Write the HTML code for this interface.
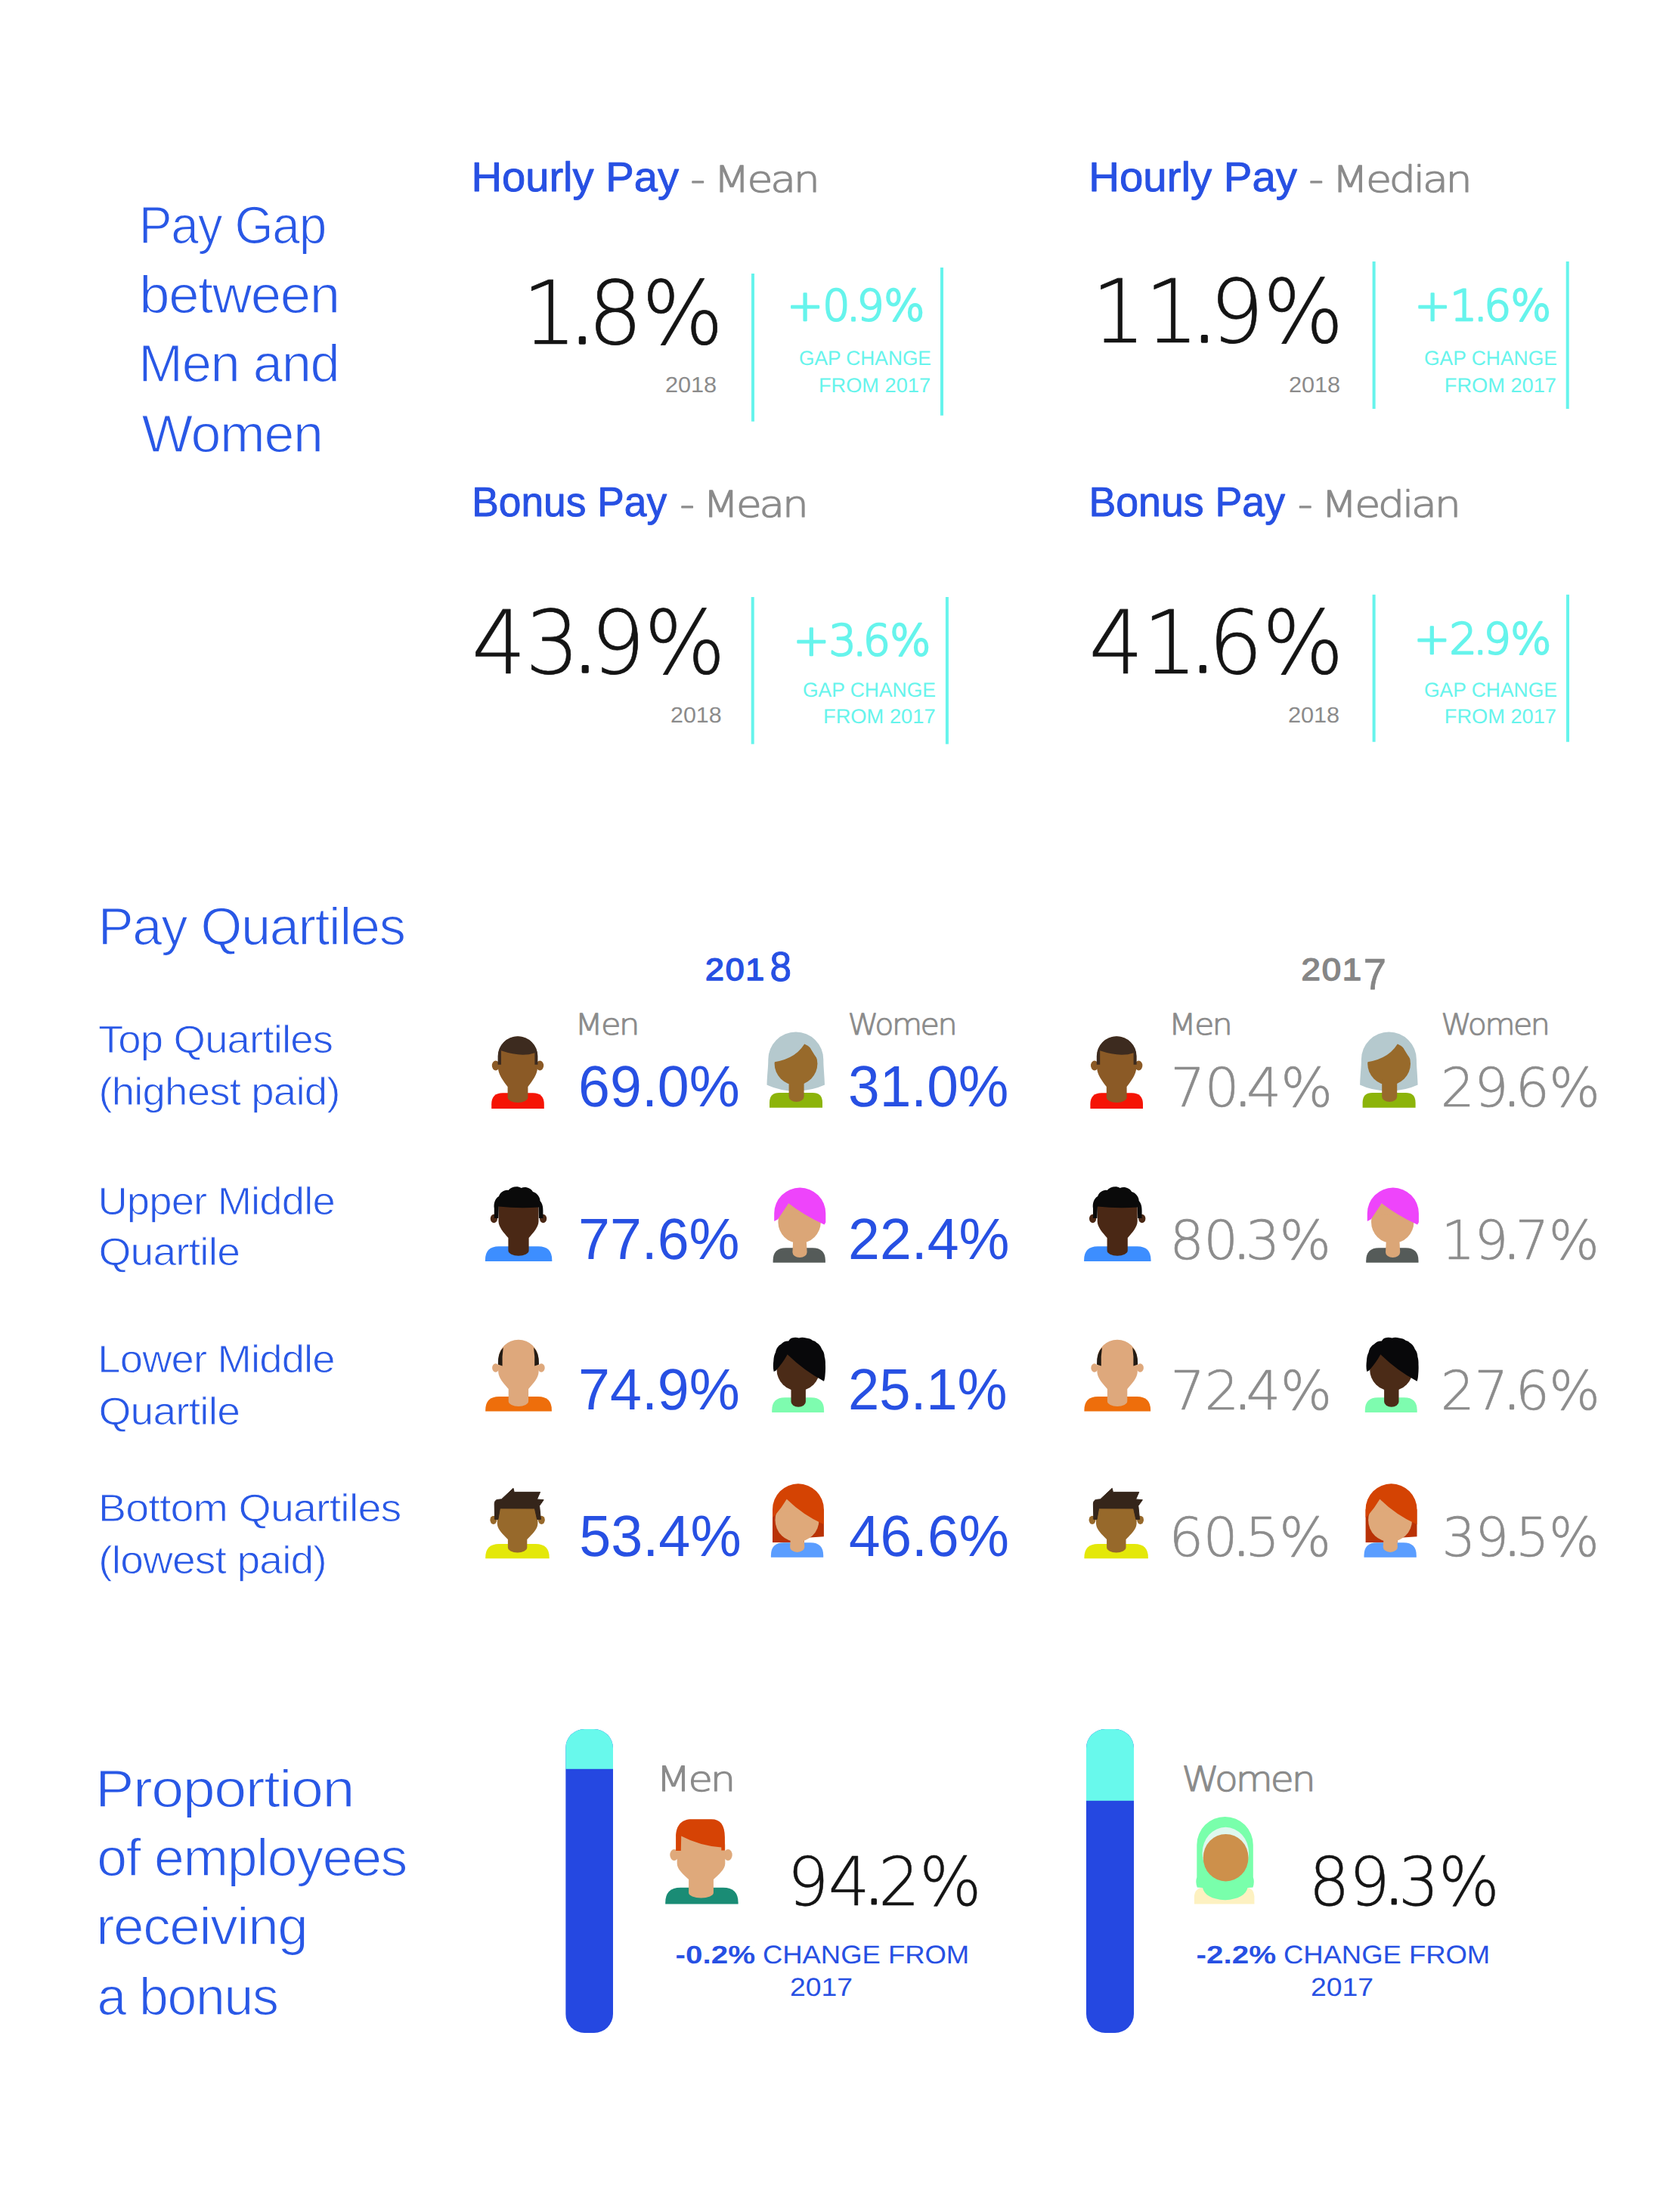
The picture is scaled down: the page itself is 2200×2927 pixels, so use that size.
<!DOCTYPE html>
<html lang="en">
<head>
<meta charset="utf-8">
<title>Gender Pay Gap Report 2018</title>
<style>
html,body{margin:0;padding:0;background:#fff;}
body{width:2200px;height:2927px;overflow:hidden;font-family:'Liberation Sans',Arial,sans-serif;}
svg{display:block;}
text{white-space:pre;text-rendering:geometricPrecision;}
.T{font-family:'Liberation Sans', Arial, Helvetica, sans-serif;font-weight:400;font-size:70.0px;fill:#2958e6;stroke:#fff;stroke-width:1.3px;stroke-linejoin:round;letter-spacing:-1.26px;}
.HB{font-family:'Liberation Sans', Arial, Helvetica, sans-serif;font-weight:400;font-size:54.93px;fill:#2750e3;stroke:#2750e3;stroke-width:0.9px;stroke-linejoin:round;}
.HG{font-family:'DejaVu Sans Light', 'DejaVu Sans', 'Liberation Sans', sans-serif;font-weight:200;font-size:48.08px;fill:#8b8b8b;stroke:#8b8b8b;stroke-width:1.2px;stroke-linejoin:round;letter-spacing:-2.88px;}
.NUM{font-family:'DejaVu Sans Light', 'DejaVu Sans', 'Liberation Sans', sans-serif;font-weight:200;font-size:116.4px;fill:#141414;stroke:#141414;stroke-width:0.7px;stroke-linejoin:round;letter-spacing:-1.16px;}
.Y18{font-family:'Liberation Sans', Arial, Helvetica, sans-serif;font-weight:400;font-size:29.14px;fill:#8b8b8b;}
.CY{font-family:'DejaVu Sans Light', 'DejaVu Sans', 'Liberation Sans', sans-serif;font-weight:200;font-size:56.8px;fill:#66f4ec;stroke:#66f4ec;stroke-width:2.4px;stroke-linejoin:round;letter-spacing:-0.57px;}
.CG{font-family:'Liberation Sans', Arial, Helvetica, sans-serif;font-weight:400;font-size:26.96px;fill:#66f4ec;}
.QL{font-family:'Liberation Sans', Arial, Helvetica, sans-serif;font-weight:400;font-size:51.3px;fill:#2958e6;stroke:#fff;stroke-width:0.9px;stroke-linejoin:round;letter-spacing:-0.77px;}
.QYB{font-family:'Liberation Sans', Arial, Helvetica, sans-serif;font-weight:400;font-size:41.14px;fill:#2750e3;stroke:#2750e3;stroke-width:1.6px;stroke-linejoin:round;letter-spacing:1.65px;}
.QYB8{font-family:'Liberation Sans', Arial, Helvetica, sans-serif;font-weight:400;font-size:55.29px;fill:#2750e3;stroke:#2750e3;stroke-width:0.9px;stroke-linejoin:round;}
.QYG{font-family:'Liberation Sans', Arial, Helvetica, sans-serif;font-weight:400;font-size:41.14px;fill:#868686;stroke:#868686;stroke-width:1.6px;stroke-linejoin:round;letter-spacing:1.65px;}
.QYG7{font-family:'Liberation Sans', Arial, Helvetica, sans-serif;font-weight:400;font-size:58.0px;fill:#868686;stroke:#868686;stroke-width:0.8px;stroke-linejoin:round;}
.QMW{font-family:'DejaVu Sans Light', 'DejaVu Sans', 'Liberation Sans', sans-serif;font-weight:200;font-size:38.9px;fill:#8b8b8b;stroke:#8b8b8b;stroke-width:1.0px;stroke-linejoin:round;letter-spacing:-2.33px;}
.QNB{font-family:'Liberation Sans', Arial, Helvetica, sans-serif;font-weight:400;font-size:77.14px;fill:#2750e3;}
.QNG{font-family:'DejaVu Sans Light', 'DejaVu Sans', 'Liberation Sans', sans-serif;font-weight:200;font-size:71.2px;fill:#8c8c8c;stroke:#8c8c8c;stroke-width:0.6px;stroke-linejoin:round;letter-spacing:-0.71px;}
.BL{font-family:'DejaVu Sans Light', 'DejaVu Sans', 'Liberation Sans', sans-serif;font-weight:200;font-size:45.75px;fill:#8b8b8b;stroke:#8b8b8b;stroke-width:1.2px;stroke-linejoin:round;letter-spacing:-2.75px;}
.BN{font-family:'DejaVu Sans Light', 'DejaVu Sans', 'Liberation Sans', sans-serif;font-weight:200;font-size:89.07px;fill:#141414;stroke:#141414;stroke-width:0.5px;stroke-linejoin:round;letter-spacing:-0.89px;}
.BCB{font-family:'Liberation Sans', Arial, Helvetica, sans-serif;font-weight:700;font-size:33.43px;fill:#2750e3;}
.BCR{font-family:'Liberation Sans', Arial, Helvetica, sans-serif;font-weight:400;font-size:33.91px;fill:#2750e3;}
.dot-NUM{stroke:#141414;stroke-width:3.6px;stroke-linejoin:round;}
.dot-QNG{stroke:#8c8c8c;stroke-width:2.6px;stroke-linejoin:round;}
.dot-BN{stroke:#141414;stroke-width:3.2px;stroke-linejoin:round;}
.dot-CY{stroke:#66f4ec;stroke-width:3.0px;stroke-linejoin:round;}
</style>
</head>
<body>
<svg width="2200" height="2927" viewBox="0 0 2200 2927" role="img" aria-label="Gender pay gap infographic">
<rect width="2200" height="2927" fill="#ffffff"/>
<g id="dividers"><rect x="994.0" y="362.0" width="4" height="195.7" fill="#66f4ec"/><rect x="1244.0" y="354.0" width="4" height="195.8" fill="#66f4ec"/><rect x="1815.6" y="346.0" width="4" height="195.0" fill="#66f4ec"/><rect x="2071.7" y="346.0" width="4" height="195.0" fill="#66f4ec"/><rect x="993.7" y="790.0" width="4" height="194.6" fill="#66f4ec"/><rect x="1250.9" y="790.0" width="4" height="194.6" fill="#66f4ec"/><rect x="1815.6" y="786.8" width="4" height="194.9" fill="#66f4ec"/><rect x="2072.0" y="786.8" width="4" height="194.9" fill="#66f4ec"/></g>
<g id="bars"><clipPath id="barM"><rect x="748.2" y="2288" width="62.8" height="402" rx="25" ry="25"/></clipPath><g clip-path="url(#barM)"><rect x="748.2" y="2288" width="62.8" height="402" fill="#2548e1"/><rect x="748.2" y="2288" width="62.8" height="52.8" fill="#68f9ec"/></g><clipPath id="barW"><rect x="1437" y="2288" width="63" height="402" rx="25" ry="25"/></clipPath><g clip-path="url(#barW)"><rect x="1437" y="2288" width="63" height="402" fill="#2548e1"/><rect x="1437" y="2288" width="63" height="94.8" fill="#68f9ec"/></g></g>
<g id="icons-2018"><g id="m1"><path fill="#f51405" d="M650.2,1466.9 L650.2,1461.3 Q650.2,1446.3 665.2,1446.3 L704.8,1446.3 Q719.8,1446.3 719.8,1461.3 L719.8,1466.9 Z"/><ellipse cx="655.8" cy="1410" rx="5.0" ry="6.4" fill="#8b5a26"/><ellipse cx="714.2" cy="1410" rx="5.0" ry="6.4" fill="#8b5a26"/><path fill="#8b5a26" d="M659,1397.6 A26,26 0 0 1 711,1397.6 L711,1413 C711,1421.8 704.1,1430.5 698.4,1438 L698.4,1452 A13.4,7 0 0 1 671.6,1452 L671.6,1438 C665.9,1430.5 659,1421.8 659,1413 Z"/><path fill="#3d2b1f" d="M658.6,1408.8 L658.6,1397.6 A26.4,26.4 0 0 1 711.4,1397.6 L711.4,1408.8 L707.4,1408.8 L707.4,1393.2 Q690,1399.5 663,1390.3 L663,1408.8 Z"/></g><g id="w1"><path fill="#b5c9ce" d="M1014.5,1435.5 C1015,1420 1016.3,1412 1016.3,1402 A36.5,36.5 0 0 1 1089.3,1402 C1089.3,1412 1090.5,1420 1091,1435.5 Q1075,1443 1052.7,1444 Q1030,1443 1014.5,1435.5 Z"/><path fill="#8cb40a" d="M1018,1465.8 L1018,1459 Q1018,1446 1031,1446 L1075,1446 Q1088,1446 1088,1459 L1088,1465.8 Z"/><circle cx="1053" cy="1407.5" r="28.4" fill="#986a2b"/><path fill="#986a2b" d="M1043.6,1428 L1063.6,1428 L1063.6,1451 A10,7 0 0 1 1043.6,1451 Z"/><path fill="#b5c9ce" d="M1019,1406.5 L1023.5,1405.5 Q1056,1400.5 1067,1376 Q1072,1389 1082.5,1403 L1087,1400 L1078,1382 L1050,1369 L1026,1381 Z"/></g><g id="m2"><path fill="#3d8eff" d="M641.9,1669 L641.9,1667.2 Q641.9,1649.2 659.9,1649.2 L712.3,1649.2 Q730.3,1649.2 730.3,1667.2 L730.3,1669 Z"/><ellipse cx="653.4" cy="1612.5" rx="4.6" ry="5.8" fill="#4a2815"/><ellipse cx="718.6" cy="1612.5" rx="4.6" ry="5.8" fill="#4a2815"/><path fill="#4a2815" d="M659.5,1598.5 A26.5,26.5 0 0 1 712.5,1598.5 L712.5,1616 C712.5,1623.7 705.4,1631.4 699.6,1638 L699.6,1654.8 A13.6,7 0 0 1 672.4,1654.8 L672.4,1638 C666.6,1631.4 659.5,1623.7 659.5,1616 Z"/><path fill="#0a0a0a" d="M653.8,1612 L653.8,1599 C652.6,1592 655.5,1585.5 660,1583 C661.5,1578 667,1574 672.5,1575 C676,1570.5 684.5,1568.8 689.5,1572 C695.5,1569.5 702.5,1572.5 705,1577 C710.5,1578.5 714.5,1584 714.5,1589 C717.8,1593 718.4,1597 718.4,1602 L718.4,1612 L713,1612 L712.6,1597.5 Q686,1599.5 659.8,1596.5 L659.2,1612 Z"/></g><g id="w2"><path fill="#555b59" d="M1022.6,1670.8 L1022.6,1668.3 Q1022.6,1651.3 1039.6,1651.3 L1074.9,1651.3 Q1091.9,1651.3 1091.9,1668.3 L1091.9,1670.8 Z"/><circle cx="1057.6" cy="1617" r="28.2" fill="#dba677"/><path fill="#dba677" d="M1043.2,1591.8 L1031,1610 L1060,1605 Z"/><path fill="#dba677" d="M1049.4,1638 L1066.6,1638 L1067.6,1657 A9.6,7 0 0 1 1048.4,1657 Z"/><path fill="#ee44fb" d="M1024.2,1616 L1024.2,1605.6 A34.05,34 0 0 1 1092.3,1605.6 L1092.3,1617.5 L1090.5,1620.5 Q1064,1608.5 1043.2,1592.3 L1029,1613.5 Z"/></g><g id="m3"><path fill="#ee6e0b" d="M642.2,1867.6 L642.2,1866 Q642.2,1848 660.2,1848 L711.9,1848 Q729.9,1848 729.9,1866 L729.9,1867.6 Z"/><ellipse cx="655.7" cy="1810" rx="4.6" ry="5.8" fill="#dea87c"/><ellipse cx="716.1" cy="1810" rx="4.6" ry="5.8" fill="#dea87c"/><path fill="#dea87c" d="M659.2,1799.4 A26.7,26.7 0 0 1 712.6,1799.4 L712.6,1815 C712.6,1823.0 705.2,1831.1 699.1,1838 L699.1,1854 A13.2,7 0 0 1 672.7,1854 L672.7,1838 C666.6,1831.1 659.2,1823.0 659.2,1815 Z"/><path fill="#231b14" d="M665.8,1783 Q658.4,1790 658.8,1805.5 L664.6,1807.5 Q664,1794 665.8,1783 Z"/><path fill="#231b14" d="M706,1783 Q713.4,1790 713,1805.5 L707.2,1807.5 Q707.8,1794 706,1783 Z"/></g><g id="w3"><path fill="#7efcaf" d="M1021.2,1869 L1021.2,1866.2 Q1021.2,1849.2 1038.2,1849.2 L1073.1,1849.2 Q1090.1,1849.2 1090.1,1866.2 L1090.1,1869 Z"/><circle cx="1056" cy="1812" r="28.5" fill="#4b2b17"/><path fill="#4b2b17" d="M1046.5,1834 L1065.9,1834 L1065.9,1854.8 A9.7,7 0 0 1 1046.5,1854.8 Z"/><path fill="#08080a" d="M1023.7,1815 C1022.5,1810 1022.8,1805 1023.3,1801 C1023.5,1796 1024.5,1792 1026,1789.5 C1027,1784 1030,1780.5 1033.2,1778.8 C1036,1775.5 1040,1774 1043.2,1774.5 C1044.5,1772 1046,1770.8 1047.5,1770.4 C1051,1769.4 1054,1769.6 1057,1770.4 C1060,1769.4 1063.5,1769.6 1066.3,1770.6 C1070,1771 1073,1772 1075,1773.8 C1077,1774.2 1079,1775.2 1080,1776.6 C1083.5,1778.5 1086,1781.5 1087.2,1785.3 C1089.5,1788 1090.6,1791.5 1090.8,1795.4 C1091.8,1798.5 1092,1802 1091.9,1805.5 C1092.2,1810 1092,1815 1091.5,1820 C1091.3,1823 1090.8,1825.5 1090,1827.8 Q1064,1814 1041.7,1792.3 Q1036,1803 1026.6,1813.5 Z"/></g><g id="m4"><path fill="#e4e809" d="M642.2,2062.2 L642.2,2061 Q642.2,2043 660.2,2043 L708.7,2043 Q726.7,2043 726.7,2061 L726.7,2062.2 Z"/><ellipse cx="652.8" cy="2011.3" rx="4.4" ry="5.6" fill="#97692b"/><ellipse cx="716.4" cy="2011.3" rx="4.4" ry="5.6" fill="#97692b"/><path fill="#97692b" d="M657.8,2001.8 A26.8,26.8 0 0 1 711.4,2001.8 L711.4,2016 C711.4,2023.3 703.6,2030.7 697.3,2037 L697.3,2047.6 A12.7,7 0 0 1 671.9,2047.6 L671.9,2037 C665.6,2030.7 657.8,2023.3 657.8,2016 Z"/><path fill="#35251a" stroke="#35251a" stroke-width="1" stroke-linejoin="round" d="M654.6,2010.4 L654.2,1990 Q654.2,1985 658.2,1984.4 L663.5,1983.8 L679,1969.3 L680.2,1974.4 L714.6,1974.4 L710.4,1983.9 L719.2,1984.7 L713.6,1992.6 L715.4,2010.4 L710.6,2010.4 L707.4,1996 L661.4,1995.9 L658.9,2010.4 Z"/></g><g id="w4"><path fill="#b93206" d="M1022,1997.3 L1022,2041 L1064,2041 L1064,2035 L1089.9,2033.2 L1089.9,1997.3 Z"/><path fill="#5a9dff" d="M1019.9,2060.8 L1019.9,2058.3 Q1019.9,2041.3 1036.9,2041.3 L1072.2,2041.3 Q1089.2,2041.3 1089.2,2058.3 L1089.2,2060.8 Z"/><circle cx="1054.5" cy="2011.3" r="29" fill="#dfa97a"/><path fill="#dfa97a" d="M1040.8,1983.2 L1028,2002 L1058,1997 Z"/><path fill="#dfa97a" d="M1046.1,2032 L1063.3,2032 L1064.3,2046.9 A9.6,7 0 0 1 1045.1,2046.9 Z"/><path fill="#d44303" d="M1022,2008 L1022,1997.3 A33.95,34 0 0 1 1089.9,1997.3 L1089.9,2017.3 Q1062,2004.5 1040.8,1983.7 Q1034,1995 1024.8,2005.8 Z"/></g></g>
<g id="icons-2017"><g transform="translate(792.2 0)"><g><path fill="#f51405" d="M650.2,1466.9 L650.2,1461.3 Q650.2,1446.3 665.2,1446.3 L704.8,1446.3 Q719.8,1446.3 719.8,1461.3 L719.8,1466.9 Z"/><ellipse cx="655.8" cy="1410" rx="5.0" ry="6.4" fill="#8b5a26"/><ellipse cx="714.2" cy="1410" rx="5.0" ry="6.4" fill="#8b5a26"/><path fill="#8b5a26" d="M659,1397.6 A26,26 0 0 1 711,1397.6 L711,1413 C711,1421.8 704.1,1430.5 698.4,1438 L698.4,1452 A13.4,7 0 0 1 671.6,1452 L671.6,1438 C665.9,1430.5 659,1421.8 659,1413 Z"/><path fill="#3d2b1f" d="M658.6,1408.8 L658.6,1397.6 A26.4,26.4 0 0 1 711.4,1397.6 L711.4,1408.8 L707.4,1408.8 L707.4,1393.2 Q690,1399.5 663,1390.3 L663,1408.8 Z"/></g><g><path fill="#3d8eff" d="M641.9,1669 L641.9,1667.2 Q641.9,1649.2 659.9,1649.2 L712.3,1649.2 Q730.3,1649.2 730.3,1667.2 L730.3,1669 Z"/><ellipse cx="653.4" cy="1612.5" rx="4.6" ry="5.8" fill="#4a2815"/><ellipse cx="718.6" cy="1612.5" rx="4.6" ry="5.8" fill="#4a2815"/><path fill="#4a2815" d="M659.5,1598.5 A26.5,26.5 0 0 1 712.5,1598.5 L712.5,1616 C712.5,1623.7 705.4,1631.4 699.6,1638 L699.6,1654.8 A13.6,7 0 0 1 672.4,1654.8 L672.4,1638 C666.6,1631.4 659.5,1623.7 659.5,1616 Z"/><path fill="#0a0a0a" d="M653.8,1612 L653.8,1599 C652.6,1592 655.5,1585.5 660,1583 C661.5,1578 667,1574 672.5,1575 C676,1570.5 684.5,1568.8 689.5,1572 C695.5,1569.5 702.5,1572.5 705,1577 C710.5,1578.5 714.5,1584 714.5,1589 C717.8,1593 718.4,1597 718.4,1602 L718.4,1612 L713,1612 L712.6,1597.5 Q686,1599.5 659.8,1596.5 L659.2,1612 Z"/></g><g><path fill="#ee6e0b" d="M642.2,1867.6 L642.2,1866 Q642.2,1848 660.2,1848 L711.9,1848 Q729.9,1848 729.9,1866 L729.9,1867.6 Z"/><ellipse cx="655.7" cy="1810" rx="4.6" ry="5.8" fill="#dea87c"/><ellipse cx="716.1" cy="1810" rx="4.6" ry="5.8" fill="#dea87c"/><path fill="#dea87c" d="M659.2,1799.4 A26.7,26.7 0 0 1 712.6,1799.4 L712.6,1815 C712.6,1823.0 705.2,1831.1 699.1,1838 L699.1,1854 A13.2,7 0 0 1 672.7,1854 L672.7,1838 C666.6,1831.1 659.2,1823.0 659.2,1815 Z"/><path fill="#231b14" d="M665.8,1783 Q658.4,1790 658.8,1805.5 L664.6,1807.5 Q664,1794 665.8,1783 Z"/><path fill="#231b14" d="M706,1783 Q713.4,1790 713,1805.5 L707.2,1807.5 Q707.8,1794 706,1783 Z"/></g><g><path fill="#e4e809" d="M642.2,2062.2 L642.2,2061 Q642.2,2043 660.2,2043 L708.7,2043 Q726.7,2043 726.7,2061 L726.7,2062.2 Z"/><ellipse cx="652.8" cy="2011.3" rx="4.4" ry="5.6" fill="#97692b"/><ellipse cx="716.4" cy="2011.3" rx="4.4" ry="5.6" fill="#97692b"/><path fill="#97692b" d="M657.8,2001.8 A26.8,26.8 0 0 1 711.4,2001.8 L711.4,2016 C711.4,2023.3 703.6,2030.7 697.3,2037 L697.3,2047.6 A12.7,7 0 0 1 671.9,2047.6 L671.9,2037 C665.6,2030.7 657.8,2023.3 657.8,2016 Z"/><path fill="#35251a" stroke="#35251a" stroke-width="1" stroke-linejoin="round" d="M654.6,2010.4 L654.2,1990 Q654.2,1985 658.2,1984.4 L663.5,1983.8 L679,1969.3 L680.2,1974.4 L714.6,1974.4 L710.4,1983.9 L719.2,1984.7 L713.6,1992.6 L715.4,2010.4 L710.6,2010.4 L707.4,1996 L661.4,1995.9 L658.9,2010.4 Z"/></g></g><g transform="translate(784.6 0)"><g><path fill="#b5c9ce" d="M1014.5,1435.5 C1015,1420 1016.3,1412 1016.3,1402 A36.5,36.5 0 0 1 1089.3,1402 C1089.3,1412 1090.5,1420 1091,1435.5 Q1075,1443 1052.7,1444 Q1030,1443 1014.5,1435.5 Z"/><path fill="#8cb40a" d="M1018,1465.8 L1018,1459 Q1018,1446 1031,1446 L1075,1446 Q1088,1446 1088,1459 L1088,1465.8 Z"/><circle cx="1053" cy="1407.5" r="28.4" fill="#986a2b"/><path fill="#986a2b" d="M1043.6,1428 L1063.6,1428 L1063.6,1451 A10,7 0 0 1 1043.6,1451 Z"/><path fill="#b5c9ce" d="M1019,1406.5 L1023.5,1405.5 Q1056,1400.5 1067,1376 Q1072,1389 1082.5,1403 L1087,1400 L1078,1382 L1050,1369 L1026,1381 Z"/></g><g><path fill="#555b59" d="M1022.6,1670.8 L1022.6,1668.3 Q1022.6,1651.3 1039.6,1651.3 L1074.9,1651.3 Q1091.9,1651.3 1091.9,1668.3 L1091.9,1670.8 Z"/><circle cx="1057.6" cy="1617" r="28.2" fill="#dba677"/><path fill="#dba677" d="M1043.2,1591.8 L1031,1610 L1060,1605 Z"/><path fill="#dba677" d="M1049.4,1638 L1066.6,1638 L1067.6,1657 A9.6,7 0 0 1 1048.4,1657 Z"/><path fill="#ee44fb" d="M1024.2,1616 L1024.2,1605.6 A34.05,34 0 0 1 1092.3,1605.6 L1092.3,1617.5 L1090.5,1620.5 Q1064,1608.5 1043.2,1592.3 L1029,1613.5 Z"/></g><g><path fill="#7efcaf" d="M1021.2,1869 L1021.2,1866.2 Q1021.2,1849.2 1038.2,1849.2 L1073.1,1849.2 Q1090.1,1849.2 1090.1,1866.2 L1090.1,1869 Z"/><circle cx="1056" cy="1812" r="28.5" fill="#4b2b17"/><path fill="#4b2b17" d="M1046.5,1834 L1065.9,1834 L1065.9,1854.8 A9.7,7 0 0 1 1046.5,1854.8 Z"/><path fill="#08080a" d="M1023.7,1815 C1022.5,1810 1022.8,1805 1023.3,1801 C1023.5,1796 1024.5,1792 1026,1789.5 C1027,1784 1030,1780.5 1033.2,1778.8 C1036,1775.5 1040,1774 1043.2,1774.5 C1044.5,1772 1046,1770.8 1047.5,1770.4 C1051,1769.4 1054,1769.6 1057,1770.4 C1060,1769.4 1063.5,1769.6 1066.3,1770.6 C1070,1771 1073,1772 1075,1773.8 C1077,1774.2 1079,1775.2 1080,1776.6 C1083.5,1778.5 1086,1781.5 1087.2,1785.3 C1089.5,1788 1090.6,1791.5 1090.8,1795.4 C1091.8,1798.5 1092,1802 1091.9,1805.5 C1092.2,1810 1092,1815 1091.5,1820 C1091.3,1823 1090.8,1825.5 1090,1827.8 Q1064,1814 1041.7,1792.3 Q1036,1803 1026.6,1813.5 Z"/></g><g><path fill="#b93206" d="M1022,1997.3 L1022,2041 L1064,2041 L1064,2035 L1089.9,2033.2 L1089.9,1997.3 Z"/><path fill="#5a9dff" d="M1019.9,2060.8 L1019.9,2058.3 Q1019.9,2041.3 1036.9,2041.3 L1072.2,2041.3 Q1089.2,2041.3 1089.2,2058.3 L1089.2,2060.8 Z"/><circle cx="1054.5" cy="2011.3" r="29" fill="#dfa97a"/><path fill="#dfa97a" d="M1040.8,1983.2 L1028,2002 L1058,1997 Z"/><path fill="#dfa97a" d="M1046.1,2032 L1063.3,2032 L1064.3,2046.9 A9.6,7 0 0 1 1045.1,2046.9 Z"/><path fill="#d44303" d="M1022,2008 L1022,1997.3 A33.95,34 0 0 1 1089.9,1997.3 L1089.9,2017.3 Q1062,2004.5 1040.8,1983.7 Q1034,1995 1024.8,2005.8 Z"/></g></g></g>
<g id="icons-bonus"><g id="bm"><path fill="#1a8c75" d="M880.2,2519.6 L880.2,2517.8 Q880.2,2497.8 900.2,2497.8 L956.6,2497.8 Q976.6,2497.8 976.6,2517.8 L976.6,2519.6 Z"/><ellipse cx="891.9" cy="2454.5" rx="5.6" ry="7.4" fill="#dfa97b"/><ellipse cx="963.1" cy="2454.5" rx="5.6" ry="7.4" fill="#dfa97b"/><path fill="#dfa97b" d="M895.7,2441.8 A31.8,31.8 0 0 1 959.3,2441.8 L959.3,2466 C959.3,2473.3 950.8,2480.7 943.9,2487 L943.9,2504.6 A16.4,7 0 0 1 911.1,2504.6 L911.1,2487 C904.2,2480.7 895.7,2473.3 895.7,2466 Z"/><path fill="#d64305" d="M894.1,2449 L894.1,2431 C894.1,2415 902,2407.3 915,2407.3 L941,2407.3 C953,2407.3 958.9,2415 958.9,2431 L958.9,2448.5 L954.3,2448.5 L954.3,2444.5 Q925,2442 901.2,2429.4 L900.8,2449 Z"/></g><g id="bw"><path fill="#fdf1c1" d="M1579.9,2519.6 L1579.9,2509 Q1581,2498 1592,2497.8 L1648,2497.8 Q1658.5,2498 1659.4,2509 L1659.4,2519.6 Z"/><path fill="#79ffab" d="M1583.3,2484 L1583.3,2441.2 A37.25,37.3 0 0 1 1657.8,2441.2 L1657.8,2484 Q1660,2490 1657.5,2497.5 L1650.5,2498 Q1647,2512.5 1620.7,2514.3 Q1594,2512.5 1591,2498 L1583.8,2497.5 Q1581,2490 1583.3,2484 Z"/><ellipse cx="1621.3" cy="2452" rx="30.8" ry="34.2" fill="#dff7ee"/><path fill="#79ffab" d="M1590,2462 L1652.5,2462 L1652.5,2492 L1590,2492 Z"/><ellipse cx="1621.6" cy="2458.2" rx="29.9" ry="31.3" fill="#cd904b"/></g></g>

<g id="text-pay-gap">
<text class="T" x="183.7" y="322.4" textLength="247.3" lengthAdjust="spacingAndGlyphs">Pay Gap</text>
<text class="T" x="184.2" y="414.3" textLength="264.5" lengthAdjust="spacingAndGlyphs">between</text>
<text class="T" x="183.3" y="505.2" textLength="265.2" lengthAdjust="spacingAndGlyphs">Men and</text>
<text class="T" x="187.4" y="597.9" textLength="239.1" lengthAdjust="spacingAndGlyphs">Women</text>
<text class="HB" x="623.4" y="253.2" textLength="274.6" lengthAdjust="spacingAndGlyphs">Hourly Pay</text>
<text class="HG" x="913.3" y="253.7" textLength="168.2" lengthAdjust="spacingAndGlyphs">- Mean</text>
<text class="NUM" x="690.7" y="455.3" dx="0 -9.89 -9.89 0" dy="0 -1.45 1.45 0" textLength="265.4" lengthAdjust="spacingAndGlyphs">1<tspan class="dot-NUM">.</tspan>8%</text>
<text class="Y18" x="879.9" y="519.0" textLength="68.3" lengthAdjust="spacingAndGlyphs">2018</text>
<text class="CY" x="1041.2" y="424.2" dx="0 0 -3.98 -3.98 0" dy="0 0 -0.3 0.3 0" textLength="181.6" lengthAdjust="spacingAndGlyphs">+0<tspan class="dot-CY">.</tspan>9%</text>
<text class="CG" x="1057.0" y="483.0" textLength="174.9" lengthAdjust="spacingAndGlyphs">GAP CHANGE</text>
<text class="CG" x="1083.0" y="519.0" textLength="148.0" lengthAdjust="spacingAndGlyphs">FROM 2017</text>
<text class="HB" x="1440.3" y="253.2" textLength="275.7" lengthAdjust="spacingAndGlyphs">Hourly Pay</text>
<text class="HG" x="1731.3" y="253.7" textLength="213.2" lengthAdjust="spacingAndGlyphs">- Median</text>
<text class="NUM" x="1444.2" y="453.2" dx="0 0 -9.89 -9.89 0" dy="0 0 -1.45 1.45 0" textLength="332.3" lengthAdjust="spacingAndGlyphs">11<tspan class="dot-NUM">.</tspan>9%</text>
<text class="Y18" x="1704.9" y="519.0" textLength="68.1" lengthAdjust="spacingAndGlyphs">2018</text>
<text class="CY" x="1871.6" y="424.2" dx="0 0 -3.98 -3.98 0" dy="0 0 -0.3 0.3 0" textLength="180.1" lengthAdjust="spacingAndGlyphs">+1<tspan class="dot-CY">.</tspan>6%</text>
<text class="CG" x="1884.0" y="483.0" textLength="175.9" lengthAdjust="spacingAndGlyphs">GAP CHANGE</text>
<text class="CG" x="1910.8" y="519.0" textLength="148.2" lengthAdjust="spacingAndGlyphs">FROM 2017</text>
<text class="HB" x="624.2" y="683.2" textLength="257.9" lengthAdjust="spacingAndGlyphs">Bonus Pay</text>
<text class="HG" x="899.3" y="683.7" textLength="167.1" lengthAdjust="spacingAndGlyphs">- Mean</text>
<text class="NUM" x="623.9" y="890.6" dx="0 0 -9.89 -9.89 0" dy="0 0 -1.45 1.45 0" textLength="334.9" lengthAdjust="spacingAndGlyphs">43<tspan class="dot-NUM">.</tspan>9%</text>
<text class="Y18" x="887.0" y="956.4" textLength="67.7" lengthAdjust="spacingAndGlyphs">2018</text>
<text class="CY" x="1049.4" y="866.8" dx="0 0 -3.98 -3.98 0" dy="0 0 -0.3 0.3 0" textLength="181.4" lengthAdjust="spacingAndGlyphs">+3<tspan class="dot-CY">.</tspan>6%</text>
<text class="CG" x="1062.0" y="921.5" textLength="175.9" lengthAdjust="spacingAndGlyphs">GAP CHANGE</text>
<text class="CG" x="1089.0" y="957.0" textLength="148.6" lengthAdjust="spacingAndGlyphs">FROM 2017</text>
<text class="HB" x="1440.5" y="683.2" textLength="259.5" lengthAdjust="spacingAndGlyphs">Bonus Pay</text>
<text class="HG" x="1716.7" y="683.7" textLength="212.8" lengthAdjust="spacingAndGlyphs">- Median</text>
<text class="NUM" x="1440.5" y="890.6" dx="0 0 -9.89 -9.89 0" dy="0 0 -1.45 1.45 0" textLength="336.1" lengthAdjust="spacingAndGlyphs">41<tspan class="dot-NUM">.</tspan>6%</text>
<text class="Y18" x="1703.9" y="956.4" textLength="68.3" lengthAdjust="spacingAndGlyphs">2018</text>
<text class="CY" x="1870.4" y="864.8" dx="0 0 -3.98 -3.98 0" dy="0 0 -0.3 0.3 0" textLength="181.4" lengthAdjust="spacingAndGlyphs">+2<tspan class="dot-CY">.</tspan>9%</text>
<text class="CG" x="1884.0" y="921.5" textLength="175.9" lengthAdjust="spacingAndGlyphs">GAP CHANGE</text>
<text class="CG" x="1910.8" y="957.0" textLength="148.2" lengthAdjust="spacingAndGlyphs">FROM 2017</text>
</g>
<g id="text-pay-quartiles">
<text class="T" x="129.7" y="1250.4" textLength="405.9" lengthAdjust="spacingAndGlyphs">Pay Quartiles</text>
<text class="QL" x="129.9" y="1393.0" textLength="310.3" lengthAdjust="spacingAndGlyphs">Top Quartiles</text>
<text class="QL" x="130.4" y="1461.5" textLength="319.2" lengthAdjust="spacingAndGlyphs">(highest paid)</text>
<text class="QL" x="129.4" y="1606.5" textLength="313.5" lengthAdjust="spacingAndGlyphs">Upper Middle</text>
<text class="QL" x="130.4" y="1674.0" textLength="186.7" lengthAdjust="spacingAndGlyphs">Quartile</text>
<text class="QL" x="129.3" y="1815.5" textLength="313.5" lengthAdjust="spacingAndGlyphs">Lower Middle</text>
<text class="QL" x="130.4" y="1884.8" textLength="186.7" lengthAdjust="spacingAndGlyphs">Quartile</text>
<text class="QL" x="130.0" y="2012.5" textLength="400.4" lengthAdjust="spacingAndGlyphs">Bottom Quartiles</text>
<text class="QL" x="130.3" y="2082.4" textLength="301.6" lengthAdjust="spacingAndGlyphs">(lowest paid)</text>
<text id="y2018"><tspan class="QYB" x="933.0" y="1297.1" textLength="79.9" lengthAdjust="spacingAndGlyphs">201</tspan><tspan class="QYB8" x="1018.6" y="1297.8" textLength="28.6" lengthAdjust="spacingAndGlyphs">8</tspan></text>
<text id="y2017"><tspan class="QYG" x="1721.6" y="1297.1" textLength="81.4" lengthAdjust="spacingAndGlyphs">201</tspan><tspan class="QYG7" x="1803.7" y="1308.9" textLength="30.2" lengthAdjust="spacingAndGlyphs">7</tspan></text>
<text class="QMW" x="760.4" y="1368.9" textLength="83.3" lengthAdjust="spacingAndGlyphs">Men</text>
<text class="QMW" x="1121.4" y="1368.9" textLength="142.7" lengthAdjust="spacingAndGlyphs">Women</text>
<text class="QMW" x="1546.1" y="1368.9" textLength="81.9" lengthAdjust="spacingAndGlyphs">Men</text>
<text class="QMW" x="1906.2" y="1368.9" textLength="142.1" lengthAdjust="spacingAndGlyphs">Women</text>
<text class="QNB" x="765.1" y="1464.0" textLength="213.6" lengthAdjust="spacingAndGlyphs">69.0%</text>
<text class="QNB" x="1122.1" y="1464.0" textLength="212.2" lengthAdjust="spacingAndGlyphs">31.0%</text>
<text class="QNB" x="765.1" y="1666.0" textLength="213.4" lengthAdjust="spacingAndGlyphs">77.6%</text>
<text class="QNB" x="1122.1" y="1666.0" textLength="213.4" lengthAdjust="spacingAndGlyphs">22.4%</text>
<text class="QNB" x="765.1" y="1865.4" textLength="213.6" lengthAdjust="spacingAndGlyphs">74.9%</text>
<text class="QNB" x="1122.1" y="1865.4" textLength="210.4" lengthAdjust="spacingAndGlyphs">25.1%</text>
<text class="QNB" x="766.3" y="2059.3" textLength="214.3" lengthAdjust="spacingAndGlyphs">53.4%</text>
<text class="QNB" x="1123.0" y="2059.3" textLength="211.9" lengthAdjust="spacingAndGlyphs">46.6%</text>
<text class="QNG" x="1548.2" y="1463.7" dx="0 0 -6.05 -6.05 0" dy="0 0 -1.0 1.0 0" textLength="214.2" lengthAdjust="spacingAndGlyphs">70<tspan class="dot-QNG">.</tspan>4%</text>
<text class="QNG" x="1905.7" y="1463.7" dx="0 0 -6.05 -6.05 0" dy="0 0 -1.0 1.0 0" textLength="210.4" lengthAdjust="spacingAndGlyphs">29<tspan class="dot-QNG">.</tspan>6%</text>
<text class="QNG" x="1547.2" y="1665.7" dx="0 0 -6.05 -6.05 0" dy="0 0 -1.0 1.0 0" textLength="213.1" lengthAdjust="spacingAndGlyphs">80<tspan class="dot-QNG">.</tspan>3%</text>
<text class="QNG" x="1906.4" y="1665.7" dx="0 0 -6.05 -6.05 0" dy="0 0 -1.0 1.0 0" textLength="208.7" lengthAdjust="spacingAndGlyphs">19<tspan class="dot-QNG">.</tspan>7%</text>
<text class="QNG" x="1548.3" y="1865.1" dx="0 0 -6.05 -6.05 0" dy="0 0 -1.0 1.0 0" textLength="213.1" lengthAdjust="spacingAndGlyphs">72<tspan class="dot-QNG">.</tspan>4%</text>
<text class="QNG" x="1905.7" y="1865.1" dx="0 0 -6.05 -6.05 0" dy="0 0 -1.0 1.0 0" textLength="210.4" lengthAdjust="spacingAndGlyphs">27<tspan class="dot-QNG">.</tspan>6%</text>
<text class="QNG" x="1546.2" y="2059.0" dx="0 0 -6.05 -6.05 0" dy="0 0 -1.0 1.0 0" textLength="214.2" lengthAdjust="spacingAndGlyphs">60<tspan class="dot-QNG">.</tspan>5%</text>
<text class="QNG" x="1907.4" y="2059.0" dx="0 0 -6.05 -6.05 0" dy="0 0 -1.0 1.0 0" textLength="207.7" lengthAdjust="spacingAndGlyphs">39<tspan class="dot-QNG">.</tspan>5%</text>
</g>
<g id="text-bonus-proportion">
<text class="T" x="125.9" y="2390.7" textLength="342.1" lengthAdjust="spacingAndGlyphs">Proportion</text>
<text class="T" x="128.3" y="2481.7" textLength="409.8" lengthAdjust="spacingAndGlyphs">of employees</text>
<text class="T" x="127.2" y="2573.3" textLength="279.3" lengthAdjust="spacingAndGlyphs">receiving</text>
<text class="T" x="128.4" y="2666.0" textLength="239.3" lengthAdjust="spacingAndGlyphs">a bonus</text>
<text class="BL" x="868.2" y="2370.0" textLength="101.8" lengthAdjust="spacingAndGlyphs">Men</text>
<text class="BL" x="1563.3" y="2370.0" textLength="174.4" lengthAdjust="spacingAndGlyphs">Women</text>
<text class="BN" x="1041.5" y="2520.8" dx="0 0 -7.57 -7.57 0" dy="0 0 -1.35 1.35 0" textLength="256.1" lengthAdjust="spacingAndGlyphs">94<tspan class="dot-BN">.</tspan>2%</text>
<text class="BN" x="1731.6" y="2520.8" dx="0 0 -7.57 -7.57 0" dy="0 0 -1.35 1.35 0" textLength="251.4" lengthAdjust="spacingAndGlyphs">89<tspan class="dot-BN">.</tspan>3%</text>
<text class="BCB" x="893.6" y="2598.0" textLength="105.5" lengthAdjust="spacingAndGlyphs">-0.2%</text>
<text class="BCR" x="1008.9" y="2598.0" textLength="273.3" lengthAdjust="spacingAndGlyphs">CHANGE FROM</text>
<text class="BCR" x="1044.9" y="2641.0" textLength="83.1" lengthAdjust="spacingAndGlyphs">2017</text>
<text class="BCB" x="1582.6" y="2598.0" textLength="105.5" lengthAdjust="spacingAndGlyphs">-2.2%</text>
<text class="BCR" x="1697.9" y="2598.0" textLength="273.3" lengthAdjust="spacingAndGlyphs">CHANGE FROM</text>
<text class="BCR" x="1733.9" y="2641.0" textLength="83.1" lengthAdjust="spacingAndGlyphs">2017</text>
</g>
</svg>
</body>
</html>
